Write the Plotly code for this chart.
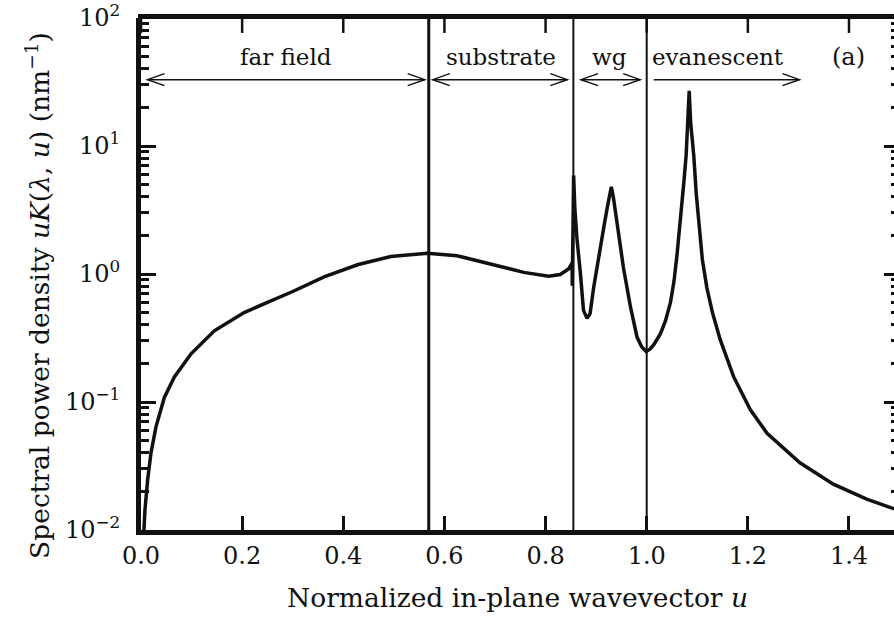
import math
import plotly.graph_objects as go

# Spectral power density uK(lambda, u) versus normalized in-plane wavevector u
u_vals = [0.0045, 0.0079, 0.0132, 0.0197, 0.0296, 0.046, 0.066, 0.099, 0.145, 0.204,
          0.25, 0.30, 0.362, 0.428, 0.494, 0.566, 0.625, 0.691, 0.757, 0.806,
          0.829, 0.846, 0.8525, 0.8528, 0.8535, 0.8555, 0.858, 0.862, 0.869, 0.875,
          0.882, 0.888, 0.895, 0.901, 0.908, 0.915, 0.922, 0.926, 0.930, 0.934,
          0.941, 0.948, 0.954, 0.968, 0.981, 0.990, 0.999, 1.007, 1.014, 1.027,
          1.037, 1.047, 1.054, 1.060, 1.065, 1.070, 1.074, 1.078, 1.081, 1.084,
          1.087, 1.093, 1.098, 1.103, 1.110, 1.119, 1.130, 1.145, 1.172, 1.205,
          1.238, 1.303, 1.369, 1.435, 1.49]
uk_vals = [0.008, 0.0145, 0.0248, 0.040, 0.064, 0.108, 0.157, 0.238, 0.36, 0.50,
           0.60, 0.73, 0.95, 1.18, 1.37, 1.45, 1.39, 1.20, 1.03, 0.96,
           0.99, 1.10, 1.22, 0.81, 1.4, 5.9, 3.2, 1.9, 1.0, 0.52,
           0.45, 0.49, 0.78, 1.1, 1.6, 2.3, 3.3, 4.0, 4.8, 4.0,
           2.6, 1.6, 1.12, 0.55, 0.32, 0.27, 0.248, 0.26, 0.28, 0.34,
           0.43, 0.60, 0.88, 1.42, 2.2, 3.5, 5.5, 8.5, 15.0, 27.0,
           15.0, 8.5, 4.2, 2.6, 1.3, 0.78, 0.50, 0.31, 0.157, 0.087,
           0.057, 0.0335, 0.0228, 0.0174, 0.0146]

# Region boundaries: light line in air, light line in substrate, u = 1
boundaries = [0.569, 0.855, 1.0]
boundary_widths = [3, 2, 2]

# Region arrows and their labels
region_labels = ["far field", "substrate", "wg", "evanescent"]
label_u = [0.286, 0.711, 0.926, 1.141]
arrow_start = [0.013, 0.577, 0.870, 1.014]
arrow_end = [0.561, 0.843, 0.987, 1.302]
start_head = [True, True, True, False]
arrow_level = 33.0
label_level = 50.0
panel_tag = "(a)"
panel_tag_u = 1.400

x_ticks = [0.0, 0.2, 0.4, 0.6, 0.8, 1.0, 1.2, 1.4]
y_ticks = [0.01, 0.1, 1, 10, 100]
y_tick_text = ["10<sup>−2</sup>", "10<sup>−1</sup>", "10<sup>0</sup>",
               "10<sup>1</sup>", "10<sup>2</sup>"]
x_range = [0.0, 1.489]
y_range_log = [-2, 2]

FONT = "DejaVu Serif"
INK = "#111111"

# plot area in pixels
W, H = 894, 623
L, R, T, B = 141, 0, 16, 93
plot_w, plot_h = W - L - R, H - T - B

fig = go.Figure()
fig.add_trace(go.Scatter(x=u_vals, y=uk_vals, mode="lines",
                         line=dict(color=INK, width=3.5), hoverinfo="skip",
                         showlegend=False))
# carrier trace for the right-hand tick axis
fig.add_trace(go.Scatter(x=[None], y=[None], yaxis="y2",
                         showlegend=False, hoverinfo="skip"))

shapes = []
# top frame edge with inward ticks (tick length 15 px expressed in decades)
top_val = 10 ** y_range_log[1]
tick_decades = 15 * (y_range_log[1] - y_range_log[0]) / plot_h
shapes.append(dict(type="line", xref="paper", yref="paper", x0=-0.004, x1=1.0,
                   y0=1.003, y1=1.003, line=dict(color=INK, width=5)))
for t in x_ticks:
    shapes.append(dict(type="line", xref="x", yref="y", x0=t, x1=t,
                       y0=top_val, y1=top_val / 10 ** tick_decades,
                       line=dict(color=INK, width=2.5)))
for b, w in zip(boundaries, boundary_widths):
    shapes.append(dict(type="line", xref="x", yref="paper", x0=b, x1=b, y0=0, y1=1,
                       line=dict(color=INK, width=w)))

head_len, head_half = 17, 6
for x0, x1, sh in zip(arrow_start, arrow_end, start_head):
    shapes.append(dict(type="line", xref="x", yref="y", x0=x0, x1=x1,
                       y0=arrow_level, y1=arrow_level,
                       line=dict(color=INK, width=1.5)))
    shapes.append(dict(type="path", xref="x", yref="y", xsizemode="pixel",
                       ysizemode="pixel", xanchor=x1, yanchor=arrow_level,
                       path=f"M{-head_len},{head_half} L0,0 L{-head_len},{-head_half}",
                       line=dict(color=INK, width=1.5)))
    if sh:
        shapes.append(dict(type="path", xref="x", yref="y", xsizemode="pixel",
                           ysizemode="pixel", xanchor=x0, yanchor=arrow_level,
                           path=f"M{head_len},{head_half} L0,0 L{head_len},{-head_half}",
                           line=dict(color=INK, width=1.5)))

annotations = []
yl = math.log10(label_level)
for txt, xu in zip(region_labels, label_u):
    annotations.append(dict(text=txt, x=xu, y=yl, xref="x", yref="y", showarrow=False,
                            xanchor="center", yanchor="middle",
                            font=dict(family=FONT, size=23, color=INK)))
annotations.append(dict(text=panel_tag, x=panel_tag_u, y=yl, xref="x", yref="y",
                        showarrow=False, xanchor="center", yanchor="middle",
                        font=dict(family=FONT, size=24, color=INK)))

# y-axis title, placed in pixels left of the tick labels
annotations.append(dict(
    text="Spectral power density <i>uK</i>(<i>λ</i>, <i>u</i>) (nm<sup>−1</sup>)",
    textangle=-90, xref="paper", yref="paper",
    x=(38 - L) / plot_w, y=(H - B - 295) / plot_h,
    xanchor="center", yanchor="middle", showarrow=False,
    font=dict(family=FONT, size=26.5, color=INK)))

tick_font = dict(family=FONT, size=24, color=INK)

fig.update_layout(
    width=W, height=H,
    margin=dict(l=L, r=R, t=T, b=B),
    paper_bgcolor="white", plot_bgcolor="white",
    shapes=shapes, annotations=annotations,
    xaxis=dict(range=x_range, tickvals=x_ticks, ticktext=[f"{t:.1f}" for t in x_ticks],
               ticks="inside", ticklen=14, tickwidth=2.5, tickcolor=INK,
               showline=True, linewidth=5, linecolor=INK, mirror=False,
               showgrid=False, zeroline=False, tickfont=tick_font,
               title=dict(text="Normalized in-plane wavevector <i>u</i>",
                          font=dict(family=FONT, size=26.5, color=INK), standoff=21)),
    yaxis=dict(type="log", range=y_range_log, tickvals=y_ticks, ticktext=y_tick_text,
               ticks="inside", ticklen=15, tickwidth=2.5, tickcolor=INK,
               minor=dict(ticks="inside", ticklen=8, tickwidth=2.5, tickcolor=INK,
                          dtick="D1"),
               showline=True, linewidth=5, linecolor=INK, mirror=False,
               showgrid=False, zeroline=False, tickfont=tick_font,
               ticklabelstandoff=11, ticklabeloverflow="allow"),
    yaxis2=dict(type="log", range=y_range_log, dtick=1, overlaying="y", side="right",
                anchor="x", ticks="inside", ticklen=10, tickwidth=2.5, tickcolor=INK,
                minor=dict(ticks="inside", ticklen=3, tickwidth=2.5, tickcolor=INK,
                           dtick="D1"),
                showline=False, showticklabels=False, showgrid=False, zeroline=False),
)

fig.write_html("out.html")
